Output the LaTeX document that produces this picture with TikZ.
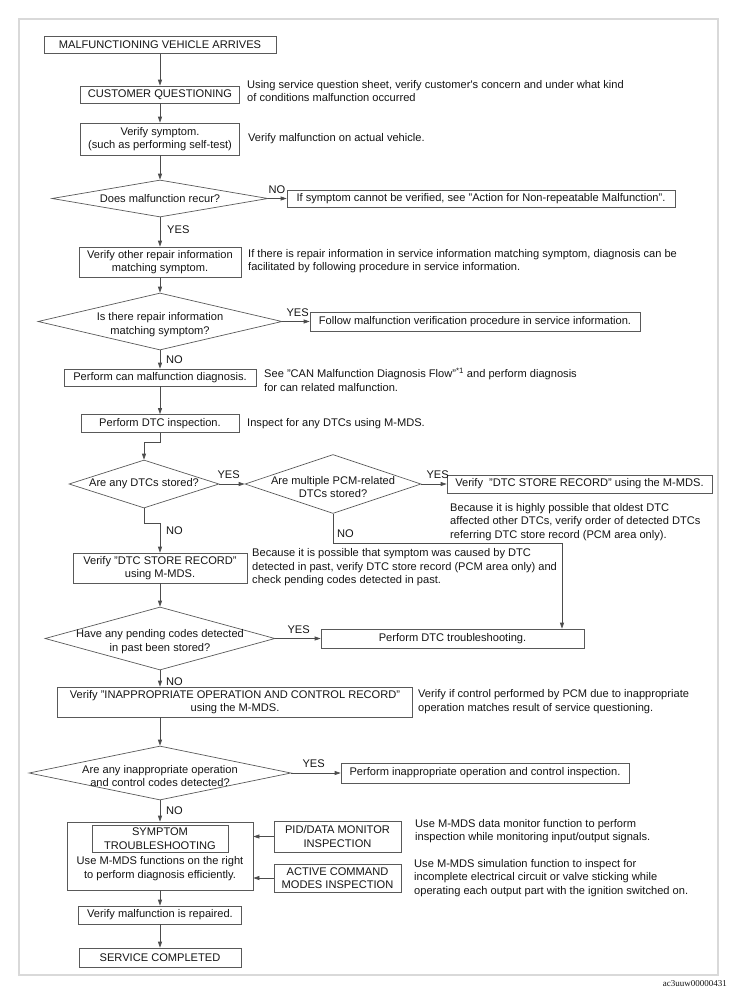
\documentclass[tikz,border=0pt]{standalone}
\usepackage{fontspec}
\setmainfont{Liberation Sans}
\newfontfamily\serifid{Liberation Serif}
\usetikzlibrary{arrows.meta,shapes.geometric,calc}
\begin{document}
\begin{tikzpicture}[x=1pt,y=-1pt,
  every node/.style={font=\fontsize{11.1}{13.4}\selectfont, text=black!92},
  box/.style={draw=black!65, line width=0.7pt, inner sep=0pt, align=center},
  dia/.style={draw=black!65, line width=0.7pt, diamond, inner sep=0pt},
  desc/.style={anchor=west, inner sep=0pt, align=left},
  lab/.style={inner sep=0pt},
  arr/.style={draw=black!70, line width=0.7pt, -{Triangle[length=6pt,width=4pt]}},
  frame/.style={draw=black!15, line width=2.5pt}
]
\useasboundingbox (0,0) rectangle (737,1002);
\draw[frame] (19,19) rectangle (718,975);

% ---- boxes ----
\node[box, minimum width=232pt, minimum height=17pt] (start) at (160,45) {MALFUNCTIONING VEHICLE ARRIVES};
\node[box, minimum width=159pt, minimum height=17pt] (cq) at (160,94.5) {CUSTOMER QUESTIONING};
\node[desc] (cqd) at (247,91) {Using service question sheet, verify customer\textquotesingle s concern and under what kind\\of conditions malfunction occurred};
\node[box, minimum width=159pt, minimum height=32pt] (vs) at (160,139) {Verify symptom.\\(such as performing self-test)};
\node[desc] (vsd) at (248,139) {Verify malfunction on actual vehicle.};
\node[dia, minimum width=216pt, minimum height=37pt, label={center:Does malfunction recur?}] (d1) at (160,198.5) {};
\node[box, minimum width=388pt, minimum height=17pt] (nr) at (481,198.5) {If symptom cannot be verified, see "Action for Non-repeatable Malfunction".};
\node[box, minimum width=162pt, minimum height=30pt] (vo) at (160,262) {Verify other repair information\\matching symptom.};
\node[desc] (vod) at (248,261) {If there is repair information in service information matching symptom, diagnosis can be\\facilitated by following procedure in service information.};
\node[dia, minimum width=244pt, minimum height=57pt, label={[align=center,yshift=-3pt]center:Is there repair information\\matching symptom?}] (d2) at (160,321.5) {};
\node[box, minimum width=330pt, minimum height=19pt] (fmv) at (475,321.5) {Follow malfunction verification procedure in service information.};
\node[box, minimum width=192pt, minimum height=17pt] (can) at (160,377.5) {Perform can malfunction diagnosis.};
\node[desc] (cand) at (264,380) {See "CAN Malfunction Diagnosis Flow"\textsuperscript{*1} and perform diagnosis\\for can related malfunction.};
\node[box, minimum width=158pt, minimum height=18pt] (dtc) at (160,423.5) {Perform DTC inspection.};
\node[desc] (dtcd) at (247,424) {Inspect for any DTCs using M-MDS.};
\node[dia, minimum width=150pt, minimum height=48pt, label={center:Are any DTCs stored?}] (d3) at (144,484) {};
\node[dia, minimum width=176pt, minimum height=59pt, label={[align=center,yshift=-3pt]center:Are multiple PCM-related\\DTCs stored?}] (d4) at (333,484) {};
\node[box, minimum width=265pt, minimum height=18pt] (dsr) at (579.5,484) {Verify\ \ "DTC STORE RECORD" using the M-MDS.};
\node[desc, anchor=north west] (dsrd) at (450,503) {Because it is highly possible that oldest DTC\\affected other DTCs, verify order of detected DTCs\\referring DTC store record (PCM area only).};
\node[box, minimum width=174pt, minimum height=30pt] (vdsr) at (160,568) {Verify "DTC STORE RECORD"\\using M-MDS.};
\node[desc] (vdsrd) at (252,567.5) {Because it is possible that symptom was caused by DTC\\detected in past, verify DTC store record (PCM area only) and\\check pending codes detected in past.};
\coordinate (k1) at (562,543);
\node[dia, minimum width=230pt, minimum height=63pt, label={[align=center,yshift=-3pt]center:Have any pending codes detected\\in past been stored?}] (d5) at (160,638.5) {};
\node[box, minimum width=263pt, minimum height=19pt] (dts) at (452.5,638.5) {Perform DTC troubleshooting.};
\node[box, minimum width=355pt, minimum height=30pt] (vio) at (235,702) {Verify "INAPPROPRIATE OPERATION AND CONTROL RECORD"\\using the M-MDS.};
\node[desc] (viod) at (418,701.5) {Verify if control performed by PCM due to inappropriate\\operation matches result of service questioning.};
\node[dia, minimum width=262pt, minimum height=54pt, label={[align=center,yshift=-3pt]center:Are any inappropriate operation\\and control codes detected?}] (d6) at (160,773) {};
\node[box, minimum width=288pt, minimum height=20pt] (pio) at (485,773) {Perform inappropriate operation and control inspection.};
\node[box, minimum width=186pt, minimum height=68pt] (sym) at (160,856) {};
\node[box, minimum width=136pt, minimum height=27pt] (symh) at (160,838.5) {SYMPTOM\\TROUBLESHOOTING};
\node[lab, align=center] (symt) at (160,868.5) {Use M-MDS functions on the right\\to perform diagnosis efficiently.};
\node[box, minimum width=127pt, minimum height=31pt] (pid) at (337.5,836.5) {PID/DATA MONITOR\\INSPECTION};
\node[desc] (pidd) at (415,831) {Use M-MDS data monitor function to perform\\inspection while monitoring input/output signals.};
\node[box, minimum width=127pt, minimum height=28pt] (act) at (337.5,878) {ACTIVE COMMAND\\MODES INSPECTION};
\node[desc] (actd) at (414,878) {Use M-MDS simulation function to inspect for\\incomplete electrical circuit or valve sticking while\\operating each output part with the ignition switched on.};
\node[box, minimum width=163pt, minimum height=18pt] (vmr) at (160,915) {Verify malfunction is repaired.};
\node[box, minimum width=162pt, minimum height=19pt] (svc) at (160,957.5) {SERVICE COMPLETED};
\node[anchor=east, inner sep=0pt, font=\serifid\fontsize{9}{10}\selectfont] (id) at (727,984) {ac3uuw00000431};

% ---- connectors ----
\draw[arr] (start) -- (cq);
\draw[arr] (cq) -- (vs);
\draw[arr] (vs) -- (d1);
\draw[arr] (d1.east) -- (nr.west);
\draw[arr] (d1.south) -- (vo.north);
\draw[arr] (vo) -- (d2);
\draw[arr] (d2.east) -- (fmv.west);
\draw[arr] (d2.south) -- (can.north);
\draw[arr] (can) -- (dtc);
\draw[arr] (dtc.south) -- ++(0,9) -| (d3.north);
\draw[arr] (d3.east) -- (d4.west);
\draw[arr] (d4.east) -- (dsr.west);
\draw[arr] (d3.south) -- ++(0,15) -| (vdsr.north);
\draw[arr] (d4.south) |- (k1) -- (k1 |- dts.north);
\draw[arr] (vdsr) -- (d5);
\draw[arr] (d5.east) -- (dts.west);
\draw[arr] (d5.south) -- (d5.south |- vio.north);
\draw[arr] (vio.south -| d6.north) -- (d6.north);
\draw[arr] (d6.east) -- (pio.west);
\draw[arr] (d6.south) -- (sym.north);
\draw[arr] (pid.west) -- (pid.west -| sym.east);
\draw[arr] (act.west) -- (act.west -| sym.east);
\draw[arr] (sym) -- (vmr);
\draw[arr] (vmr) -- (svc);

% ---- branch labels ----
\node[lab, anchor=south west] at ($(d1.east)+(0,-5)$) {NO};
\node[lab, anchor=west] at ($(d1.south)+(7,12)$) {YES};
\node[lab, anchor=south west] at ($(d2.east)+(4,-5)$) {YES};
\node[lab, anchor=west] at ($(d2.south)+(6,9)$) {NO};
\node[lab, anchor=south west] at ($(d3.east)+(-2,-5)$) {YES};
\node[lab, anchor=west] at (166,531) {NO};
\node[lab, anchor=south west] at ($(d4.east)+(5,-5)$) {YES};
\node[lab, anchor=west] at ($(d4.south)+(4,20)$) {NO};
\node[lab, anchor=south west] at ($(d5.east)+(12,-5)$) {YES};
\node[lab, anchor=west] at ($(d5.south)+(6,11)$) {NO};
\node[lab, anchor=south west] at ($(d6.east)+(11,-5)$) {YES};
\node[lab, anchor=west] at ($(d6.south)+(6,10)$) {NO};
\end{tikzpicture}
\end{document}
